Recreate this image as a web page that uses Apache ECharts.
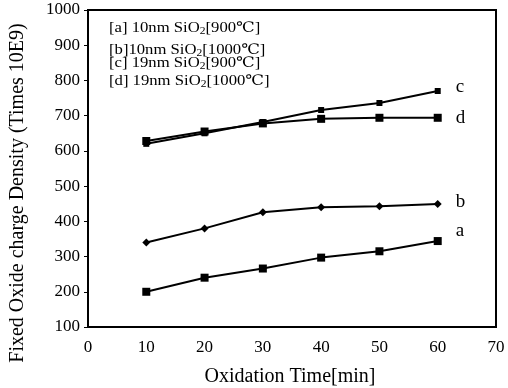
<!DOCTYPE html>
<html><head><meta charset="utf-8">
<script src="https://cdn.jsdelivr.net/npm/echarts@6/dist/echarts.min.js"></script>
<style>html,body{margin:0;padding:0;background:#fff}#c{width:508px;height:388px}</style>
</head><body><div id="c"></div>
<script>
const times = [10, 20, 30, 40, 50, 60];
const seriesA = [200, 240, 266, 297, 315, 344];
const seriesB = [340, 380, 426, 440, 443, 449];
const seriesC = [620, 650, 682, 716, 736, 770];
const seriesD = [628, 655, 678, 691, 694, 694];
const endNames = ['a', 'b', 'c', 'd'];
const xTitle = 'Oxidation Time[min]';
const yTitle = 'Fixed Oxide charge Density (Times 10E9)';
const legendLines = [
  ['[a] 10nm SiO', '2', '[900℃]'],
  ['[b]10nm SiO', '2', '[1000℃]'],
  ['[c] 19nm SiO', '2', '[900℃]'],
  ['[d] 19nm SiO', '2', '[1000℃]']
];
const FONT = '"Liberation Serif", "DejaVu Serif", serif';
const chart = echarts.init(document.getElementById('c'));
function mk(data, name, symbol, size, endOffY) {
  return {
    type: 'line', name: name,
    data: times.map((t, i) => [t, data[i]]),
    symbol: symbol, symbolSize: size,
    itemStyle: {color: '#000'},
    lineStyle: {color: '#000', width: 2},
    endLabel: {show: true, formatter: name, color: '#000', fontFamily: FONT, fontSize: 19, offset: [10, endOffY]},
    animation: false
  };
}
const legendY = [21, 43, 56, 74];
const graphics = legendLines.map((l, i) => ({
  type: 'text', x: 109, y: legendY[i], scaleX: 1.15,
  style: {
    text: '{n|' + l[0] + '}{s|' + l[1] + '}{n|' + l[2] + '}',
    rich: {
      n: {fontFamily: FONT, fontSize: 14.5, fill: '#000', lineHeight: 15},
      s: {fontFamily: FONT, fontSize: 10, fill: '#000', lineHeight: 15, padding: [5, 0, 0, 0]}
    }
  }
}));
graphics.push({
  type: 'text', x: 18, y: 193, rotation: Math.PI / 2,
  style: {text: yTitle, fontFamily: FONT, fontSize: 20, fill: '#000', align: 'center', verticalAlign: 'middle'}
});
chart.setOption({
  animation: false,
  grid: {left: 88, right: 12, top: 10, bottom: 61, show: true, borderColor: '#000', borderWidth: 2,
         containLabel: false, outerBoundsMode: 'none'},
  xAxis: {
    type: 'value', min: 0, max: 70, interval: 10,
    name: xTitle, nameLocation: 'middle', nameGap: 40,
    nameTextStyle: {color: '#000', fontFamily: FONT, fontSize: 20, padding: [0, 0, 0, -4]},
    axisLine: {lineStyle: {color: '#000', width: 2}},
    axisTick: {show: false},
    axisLabel: {color: '#000', fontFamily: FONT, fontSize: 17, margin: 12},
    splitLine: {show: false}
  },
  yAxis: {
    type: 'value', min: 100, max: 1000, interval: 100,
    axisLine: {show: true, lineStyle: {color: '#000', width: 2}},
    axisTick: {show: true, length: 4, lineStyle: {color: '#000'}},
    axisLabel: {color: '#000', fontFamily: FONT, fontSize: 17, margin: 8, formatter: v => String(v)},
    splitLine: {show: false}
  },
  graphic: graphics,
  series: [
    mk(seriesA, endNames[0], 'rect', 8, -10),
    mk(seriesB, endNames[1], 'diamond', 8, -2),
    mk(seriesC, endNames[2], 'rect', 6, -4),
    mk(seriesD, endNames[3], 'rect', 8, 0)
  ]
});
</script></body></html>
